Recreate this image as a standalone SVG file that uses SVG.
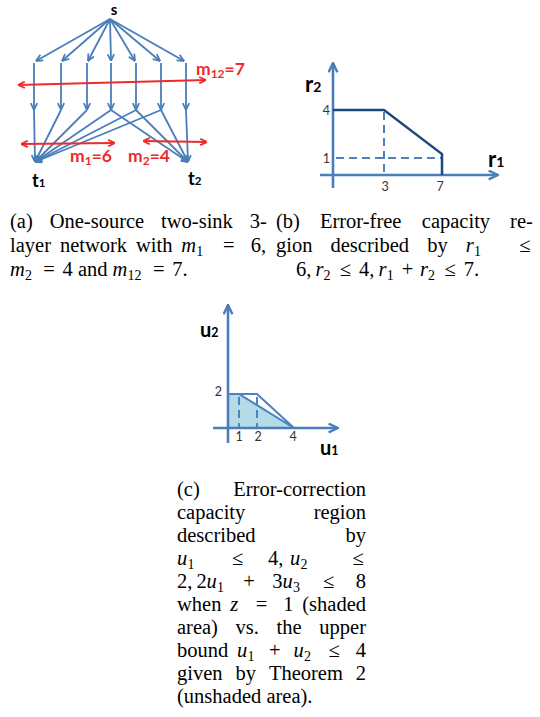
<svg xmlns="http://www.w3.org/2000/svg" width="540" height="717" viewBox="0 0 540 717">
<style>
.bl{fill:none;stroke:#4a7ebb;stroke-width:1.8}
.rd{fill:none;stroke:#ee2a2a;stroke-width:1.8}
.ax{fill:none;stroke:#4a7ebb;stroke-width:2.6}
.nv{fill:none;stroke:#1f497d;stroke-width:2.5}
.ds{fill:none;stroke:#4f81bd;stroke-width:2;stroke-dasharray:8 5}
.lab{font-family:Lato,"Liberation Sans",sans-serif;font-weight:bold}
.red{fill:#ee2a2a}
.tk{font-family:Lato,"Liberation Sans",sans-serif;font-size:12.5px;fill:#333}
.cap{font-family:"Liberation Serif",serif;font-size:20.5px;fill:#000}
.it{font-style:italic}
.sb{font-size:14px}
</style>
<defs>
<marker id="ab" viewBox="0 0 10 10" refX="9.5" refY="5" markerWidth="8" markerHeight="8" markerUnits="userSpaceOnUse" orient="auto-start-reverse"><path d="M1,1 L9.5,5 L1,9" fill="none" stroke="#4a7ebb" stroke-width="2.2"/></marker>
<marker id="ar" viewBox="0 0 10 10" refX="9.5" refY="5" markerWidth="8" markerHeight="8" markerUnits="userSpaceOnUse" orient="auto-start-reverse"><path d="M1,1 L9.5,5 L1,9" fill="none" stroke="#ee2a2a" stroke-width="2.2"/></marker>
<marker id="aa" viewBox="0 0 10 10" refX="9.5" refY="5" markerWidth="11" markerHeight="11" markerUnits="userSpaceOnUse" orient="auto-start-reverse"><path d="M1,1 L9.5,5 L1,9" fill="none" stroke="#4a7ebb" stroke-width="2.2"/></marker>
</defs>

<!-- (a) network -->
<g id="node-s"><text class="lab" x="114" y="15" font-size="15" text-anchor="middle">s</text></g>
<g id="node-t1"><text class="lab" x="32" y="187" font-size="18">t<tspan font-size="11.5">1</tspan></text></g>
<g id="node-t2"><text class="lab" x="188" y="185" font-size="18">t<tspan font-size="11.5">2</tspan></text></g>
<g id="connectors-a">
<g class="bl" marker-end="url(#ab)">
<path d="M110,19 L36,61"/>
<path d="M110,19 L62,61"/>
<path d="M110,19 L88,61"/>
<path d="M110,19 L111,61"/>
<path d="M110,19 L135,61"/>
<path d="M110,19 L160,61"/>
<path d="M110,19 L184,61"/>
<path d="M34,63 V110"/>
<path d="M61,63 V110"/>
<path d="M87,63 V110"/>
<path d="M111,63 V110"/>
<path d="M136,63 V110"/>
<path d="M161,63 V110"/>
<path d="M186,63 V110"/>
<path d="M34,110 L35,162"/>
<path d="M61,110 L35,162"/>
<path d="M87,110 L35,162"/>
<path d="M111,110 L35,162"/>
<path d="M136,110 L35,162"/>
<path d="M161,110 L35,162"/>
<path d="M111,110 L188,162"/>
<path d="M136,110 L188,162"/>
<path d="M161,110 L188,162"/>
<path d="M186,110 L188,162"/>
</g>
<g class="rd" marker-start="url(#ar)" marker-end="url(#ar)">
<path d="M18,85 L206,80"/>
<path d="M21,144 L115,143"/>
<path d="M143,141 L207,142"/>
</g>
</g>
<g id="label-m12"><text class="lab red" x="196" y="75" font-size="17.5">m<tspan font-size="12" dy="3">12</tspan><tspan dy="-3">=7</tspan></text></g>
<g id="label-m1"><text class="lab red" x="70" y="162" font-size="17.5">m<tspan font-size="12" dy="3">1</tspan><tspan dy="-3">=6</tspan></text></g>
<g id="label-m2"><text class="lab red" x="128" y="162" font-size="17.5">m<tspan font-size="12" dy="3">2</tspan><tspan dy="-3">=4</tspan></text></g>

<!-- (b) region -->
<g id="chart-b">
<path class="ax" d="M333,188 V63" marker-end="url(#aa)"/>
<path class="ax" d="M320,175 H498" marker-end="url(#aa)"/>
<path class="ds" d="M384,112 V175"/>
<path class="ds" d="M336,158 H441"/>
<path class="nv" d="M333,110 H384 L442,154 V175"/>
<text class="lab" x="305" y="92" font-size="22">r<tspan font-size="14">2</tspan></text>
<text class="lab" x="488" y="167" font-size="22">r<tspan font-size="14">1</tspan></text>
<text class="tk" x="330" y="115" text-anchor="end">4</text>
<text class="tk" x="330" y="163" text-anchor="end">1</text>
<text class="tk" x="385" y="191" text-anchor="middle">3</text>
<text class="tk" x="440" y="191" text-anchor="middle">7</text>
</g>

<!-- (c) region -->
<g id="chart-c">
<path d="M228,394 H239 L294,428 H228 Z" fill="#b4dbe8"/>
<path class="ax" d="M228,443 V305" marker-end="url(#aa)"/>
<path class="ax" d="M213,428 H338" marker-end="url(#aa)"/>
<path class="ds" d="M239,397 V428" stroke-dasharray="7 5"/>
<path class="ds" d="M257,397 V428" stroke-dasharray="7 5"/>
<path d="M228,394 H257 L294,428 M239,394 L294,428" fill="none" stroke="#4f81bd" stroke-width="2"/>
<text class="lab" x="200" y="337" font-size="20">u<tspan font-size="12.5">2</tspan></text>
<text class="lab" x="320" y="455" font-size="20">u<tspan font-size="12.5">1</tspan></text>
<text class="tk" x="222" y="396" text-anchor="end">2</text>
<text class="tk" x="239" y="441" text-anchor="middle">1</text>
<text class="tk" x="258" y="441" text-anchor="middle">2</text>
<text class="tk" x="293" y="441" text-anchor="middle">4</text>
</g>

<!-- captions -->
<g id="caption-a" class="cap">
<text y="228"><tspan x="10">(a)</tspan><tspan x="49.7">One-source</tspan><tspan x="161.1">two-sink</tspan><tspan x="249.8">3-</tspan></text>
<text y="252"><tspan x="10">layer</tspan><tspan x="59.9">network</tspan><tspan x="136">with</tspan><tspan x="181.3" class="it">m</tspan><tspan x="196.3" y="255.5" class="sb">1</tspan><tspan x="223" y="252">=</tspan><tspan x="250.8">6,</tspan></text>
<text y="276"><tspan x="10" class="it">m</tspan><tspan x="25" y="279.5" class="sb">2</tspan><tspan x="43.2" y="276">=</tspan><tspan x="62.5">4</tspan><tspan x="77.9">and</tspan><tspan x="112.6" class="it">m</tspan><tspan x="127.6" y="279.5" class="sb">12</tspan><tspan x="153" y="276">=</tspan><tspan x="172.3">7.</tspan></text>
</g>
<g id="caption-b" class="cap">
<text y="228"><tspan x="276">(b)</tspan><tspan x="319.9">Error-free</tspan><tspan x="421.8">capacity</tspan><tspan x="510.1">re-</tspan></text>
<text y="252"><tspan x="276">gion</tspan><tspan x="330.5">described</tspan><tspan x="427.2">by</tspan><tspan x="465.8" class="it">r</tspan><tspan x="474" y="255.5" class="sb">1</tspan><tspan x="519.2" y="252">≤</tspan></text>
<text y="276"><tspan x="296">6,</tspan><tspan x="315.4" class="it">r</tspan><tspan x="323.6" y="279.5" class="sb">2</tspan><tspan x="339.8" y="276">≤</tspan><tspan x="359.1">4,</tspan><tspan x="378.5" class="it">r</tspan><tspan x="386.7" y="279.5" class="sb">1</tspan><tspan x="401.8" y="276">+</tspan><tspan x="419.9" class="it">r</tspan><tspan x="428.1" y="279.5" class="sb">2</tspan><tspan x="444.4" y="276">≤</tspan><tspan x="463.7">7.</tspan></text>
</g>
<g id="caption-c" class="cap">
<text y="496"><tspan x="177">(c)</tspan><tspan x="366" text-anchor="end">Error-correction</tspan></text>
<text y="519"><tspan x="177">capacity</tspan><tspan x="366" text-anchor="end">region</tspan></text>
<text y="542"><tspan x="177">described</tspan><tspan x="366" text-anchor="end">by</tspan></text>
<text y="565"><tspan x="177" class="it">u</tspan><tspan x="187.5" y="568.5" class="sb">1</tspan><tspan x="232" y="565">≤</tspan><tspan x="268">4,</tspan><tspan x="290" class="it">u</tspan><tspan x="300.5" y="568.5" class="sb">2</tspan><tspan x="352.4" y="565">≤</tspan></text>
<text y="588"><tspan x="177">2,</tspan><tspan x="196.4">2</tspan><tspan x="206.6" class="it">u</tspan><tspan x="217.1" y="591.5" class="sb">1</tspan><tspan x="243.2" y="588">+</tspan><tspan x="272.2">3</tspan><tspan x="282.4" class="it">u</tspan><tspan x="292.9" y="591.5" class="sb">3</tspan><tspan x="322.9" y="588">≤</tspan><tspan x="355.8">8</tspan></text>
<text y="611"><tspan x="177">when</tspan><tspan x="230.2" class="it">z</tspan><tspan x="255.8">=</tspan><tspan x="283.2">1</tspan><tspan x="366" text-anchor="end">(shaded</tspan></text>
<text y="634"><tspan x="177">area)</tspan><tspan x="235.6">vs.</tspan><tspan x="276.6">the</tspan><tspan x="366" text-anchor="end">upper</tspan></text>
<text y="657"><tspan x="177">bound</tspan><tspan x="237" class="it">u</tspan><tspan x="247.5" y="660.5" class="sb">1</tspan><tspan x="269" y="657">+</tspan><tspan x="293.5" class="it">u</tspan><tspan x="304" y="660.5" class="sb">2</tspan><tspan x="328.4" y="657">≤</tspan><tspan x="355.8">4</tspan></text>
<text y="680"><tspan x="177">given</tspan><tspan x="235.5">by</tspan><tspan x="268.9">Theorem</tspan><tspan x="355.8">2</tspan></text>
<text y="703"><tspan x="177">(unshaded area).</tspan></text>
</g>
</svg>
